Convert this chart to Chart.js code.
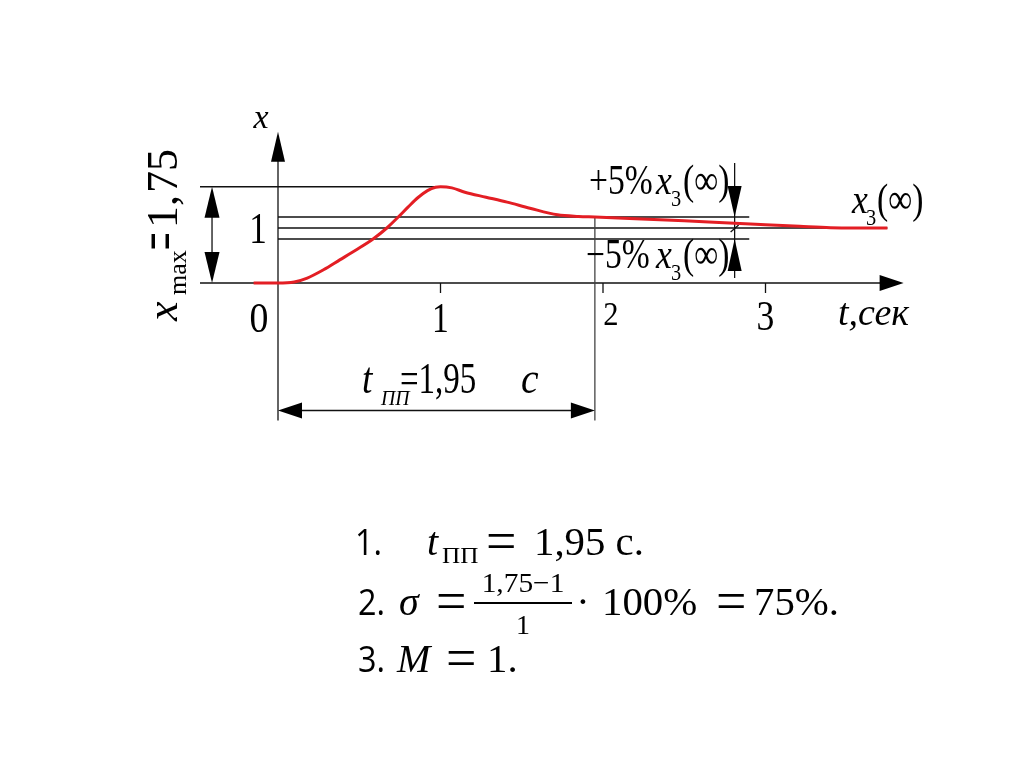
<!DOCTYPE html>
<html>
<head>
<meta charset="utf-8">
<script src="https://cdn.jsdelivr.net/npm/chart.js@4.4.0/dist/chart.umd.min.js"></script>
<style>
    html, body { margin: 0; padding: 0; background: #fff; }
    canvas { display: block; }
</style>
</head>
<body>
<canvas id="transientChart" width="1024" height="767"></canvas>
<script>
// Transient response x(t)
const curveT = [-0.15, 0, 0.1, 0.18, 0.28, 0.38, 0.48, 0.585, 0.67, 0.74, 0.8, 0.86, 0.92, 0.97, 1.0, 1.07, 1.15, 1.28, 1.41, 1.55, 1.72, 1.85, 1.95, 2.2, 2.5, 2.81, 3.0, 3.21, 3.4, 3.55, 3.75];
const curveX = [0, 0, 0.02, 0.09, 0.24, 0.42, 0.6, 0.8, 1.0, 1.2, 1.38, 1.55, 1.68, 1.74, 1.75, 1.73, 1.65, 1.56, 1.47, 1.36, 1.24, 1.21, 1.2, 1.17, 1.13, 1.085, 1.06, 1.03, 1.005, 1.0, 1.0];

const tickValues = [1, 2, 3];
const tickLabels = ['1', '2', '3'];

const xMax = 1.75;          // peak value
const steadyValue = 1;      // x3(inf)
const bandUpper = 1.2;      // +5% line (drawn schematic)
const bandLower = 0.8;      // -5% line
const settlingTime = 1.95;  // t_pp
const bandMarkT = 2.81;     // where the +-5% arrows sit

const SERIF = '"Liberation Serif", "Times New Roman", serif';
const SANS = '"Open Sans", "Noto Sans", sans-serif';

function line(ctx, x1, y1, x2, y2) {
    ctx.beginPath();
    ctx.moveTo(x1, y1);
    ctx.lineTo(x2, y2);
    ctx.stroke();
}

// filled arrow head, (dx, dy) = direction it points to
function arrowHead(ctx, tipX, tipY, dx, dy, len, half) {
    const bx = tipX - dx * len, by = tipY - dy * len;
    ctx.beginPath();
    ctx.moveTo(tipX, tipY);
    ctx.lineTo(bx - dy * half, by + dx * half);
    ctx.lineTo(bx + dy * half, by - dx * half);
    ctx.closePath();
    ctx.fill();
}

function txt(ctx, s, x, y, font, sx = 1, align = 'left', sy = 1) {
    ctx.save();
    ctx.font = font;
    ctx.textAlign = align;
    ctx.textBaseline = 'alphabetic';
    ctx.translate(x, y);
    ctx.scale(sx, sy);
    ctx.fillText(s, 0, 0);
    ctx.restore();
}

const diagram = {
    id: 'diagram',
    beforeDatasetsDraw(chart) {
        const { ctx, scales: { x, y } } = chart;
        const px = v => x.getPixelForValue(v);
        const py = v => y.getPixelForValue(v);
        ctx.save();
        ctx.strokeStyle = '#111';
        ctx.fillStyle = '#000';
        ctx.lineWidth = 1.3;

        // t axis with arrow
        line(ctx, px(x.min), py(0), px(x.max) - 20, py(0));
        arrowHead(ctx, px(x.max), py(0), 1, 0, 24, 8);
        // x axis with arrow
        line(ctx, px(0), py(y.min), px(0), py(y.max) + 20);
        arrowHead(ctx, px(0), py(y.max), 0, -1, 30, 7);

        // ticks
        tickValues.forEach(t => line(ctx, px(t), py(0), px(t), py(0) + 10));

        // x_max level
        line(ctx, px(x.min), py(xMax), px(1.0), py(xMax));
        // +-5% band and steady value
        line(ctx, px(0), py(bandUpper), px(2.9), py(bandUpper));
        line(ctx, px(0), py(steadyValue), px(3.75), py(steadyValue));
        line(ctx, px(0), py(bandLower), px(2.9), py(bandLower));

        // x_max double arrow
        const ax = px(-0.406);
        line(ctx, ax, py(0) - 20, ax, py(xMax) + 20);
        arrowHead(ctx, ax, py(xMax), 0, -1, 31, 7.5);
        arrowHead(ctx, ax, py(0), 0, 1, 31, 7.5);

        // band arrows
        const bx = px(bandMarkT);
        line(ctx, bx, py(bandUpper) - 54, bx, py(bandLower) + 39);
        arrowHead(ctx, bx, py(bandUpper), 0, 1, 31, 7);
        arrowHead(ctx, bx, py(bandLower), 0, -1, 32, 7);
        line(ctx, bx - 4, py(steadyValue) + 4, bx + 4, py(steadyValue) - 3);

        // settling time marker and dimension arrow
        const sx = px(settlingTime);
        ctx.strokeStyle = '#444';
        line(ctx, sx, py(bandUpper), sx, py(y.min));
        ctx.strokeStyle = '#111';
        const dy = py(y.min) - 10;
        line(ctx, px(0) + 10, dy, sx - 10, dy);
        arrowHead(ctx, px(0), dy, -1, 0, 24, 8);
        arrowHead(ctx, sx, dy, 1, 0, 24, 8);
        ctx.restore();
    },
    afterDatasetsDraw(chart) {
        const { ctx, scales: { x, y } } = chart;
        const px = v => x.getPixelForValue(v);
        const base = y.getPixelForValue(0);
        ctx.save();
        ctx.fillStyle = '#000';

        // axis labels
        txt(ctx, 'x', 261, 128, 'italic 34px ' + SERIF, 1, 'center');
        txt(ctx, '1', 258, 243, '44px ' + SERIF, 0.8, 'center');
        txt(ctx, '0', px(0) - 19, base + 49, '42px ' + SERIF, 0.9, 'center');
        txt(ctx, tickLabels[0], px(tickValues[0]), base + 49, '42px ' + SERIF, 0.8, 'center');
        txt(ctx, tickLabels[1], px(tickValues[1]) + 8, base + 42, '34px ' + SERIF, 0.9, 'center');
        txt(ctx, tickLabels[2], px(tickValues[2]), base + 47, '42px ' + SERIF, 0.85, 'center');
        txt(ctx, 't,сек', 838, base + 42, 'italic 38px ' + SERIF, 1);

        // band labels
        txt(ctx, '+5%', 589, 194, '42px ' + SERIF, 0.8);
        txt(ctx, 'x', 656, 194, 'italic 42px ' + SERIF, 0.85);
        txt(ctx, '3', 671, 206, '24px ' + SERIF, 0.85);
        txt(ctx, '(∞)', 683, 194, '42px ' + SERIF, 0.8);

        txt(ctx, '−5%', 586, 268, '42px ' + SERIF, 0.8);
        txt(ctx, 'x', 656, 268, 'italic 42px ' + SERIF, 0.85);
        txt(ctx, '3', 671, 280, '24px ' + SERIF, 0.85);
        txt(ctx, '(∞)', 683, 268, '42px ' + SERIF, 0.8);

        txt(ctx, 'x', 852, 213, 'italic 42px ' + SERIF, 0.85);
        txt(ctx, '3', 866, 225, '24px ' + SERIF, 0.85);
        txt(ctx, '(∞)', 877, 213, '42px ' + SERIF, 0.8);

        // t_pp dimension label
        txt(ctx, 't', 362, 393, 'italic 44px ' + SERIF, 0.85);
        txt(ctx, 'ПП', 381, 405, 'italic 22px ' + SERIF, 0.9);
        txt(ctx, '=1,95', 400, 393, '44px ' + SERIF, 0.75);
        txt(ctx, 'с', 521, 393, 'italic 44px ' + SERIF, 0.9);

        // rotated x_max = 1, 75
        ctx.save();
        ctx.translate(177, 0);
        ctx.rotate(-Math.PI / 2);
        txt(ctx, 'x', -321, 0, 'italic 44px ' + SERIF, 1);
        txt(ctx, 'max', -295, 9, '26px ' + SERIF, 1);
        txt(ctx, '=', -250, 7, '50px ' + SERIF, 0.62, 'left', 1.4);
        txt(ctx, '1,', -228, 0, '44px ' + SERIF, 1);
        txt(ctx, '75', -193, 0, '44px ' + SERIF, 1);
        ctx.restore();

        // results below the chart
        const eq = (ex, ey) => txt(ctx, '=', ex, ey + 5, '40px ' + SERIF, 1.35, 'left', 1.45);
        txt(ctx, '1.', 355, 555, '36px ' + SANS, 0.9);
        txt(ctx, 't', 427, 555, 'italic 40px ' + SERIF, 1);
        txt(ctx, 'ПП', 442, 563, '24px ' + SERIF, 1.05);
        eq(486, 555);
        txt(ctx, '1,95 с.', 534, 555, '40px ' + SERIF, 1.02);

        txt(ctx, '2.', 358, 615, '36px ' + SANS, 0.9);
        txt(ctx, 'σ', 399, 615, 'italic 40px ' + SERIF, 1);
        eq(436, 615);
        txt(ctx, '1,75−1', 523, 592, '28px ' + SERIF, 1.05, 'center');
        ctx.fillRect(474, 602, 98, 2);
        txt(ctx, '1', 523, 634, '28px ' + SERIF, 1, 'center');
        txt(ctx, '·', 583, 615, '40px ' + SERIF, 1, 'center');
        txt(ctx, '100%', 602, 615, '40px ' + SERIF, 1.02);
        eq(716, 615);
        txt(ctx, '75%.', 754, 615, '40px ' + SERIF, 1.02);

        txt(ctx, '3.', 358, 672, '36px ' + SANS, 0.9);
        txt(ctx, 'M', 397, 672, 'italic 40px ' + SERIF, 1);
        eq(446, 672);
        txt(ctx, '1.', 487, 672, '40px ' + SERIF, 1.02);
        ctx.restore();
    }
};

document.addEventListener('DOMContentLoaded', () => {
    const ctx = document.getElementById('transientChart');
    new Chart(ctx, {
        type: 'line',
        data: {
            datasets: [{
                label: 'x(t)',
                data: curveT.map((t, i) => ({ x: t, y: curveX[i] })),
                borderColor: '#e31e24',
                borderWidth: 3,
                pointRadius: 0,
                fill: false,
                cubicInterpolationMode: 'monotone'
            }]
        },
        options: {
            responsive: false,
            animation: false,
            layout: {
                padding: { left: 200, right: 120.375, top: 131.75, bottom: 346.5 }
            },
            scales: {
                x: { type: 'linear', min: -0.48, max: 3.85, display: false },
                y: { type: 'linear', min: -2.5, max: 2.75, display: false }
            },
            plugins: {
                legend: { display: false },
                tooltip: { enabled: false }
            }
        },
        plugins: [diagram]
    });
});
</script>
</body>
</html>
